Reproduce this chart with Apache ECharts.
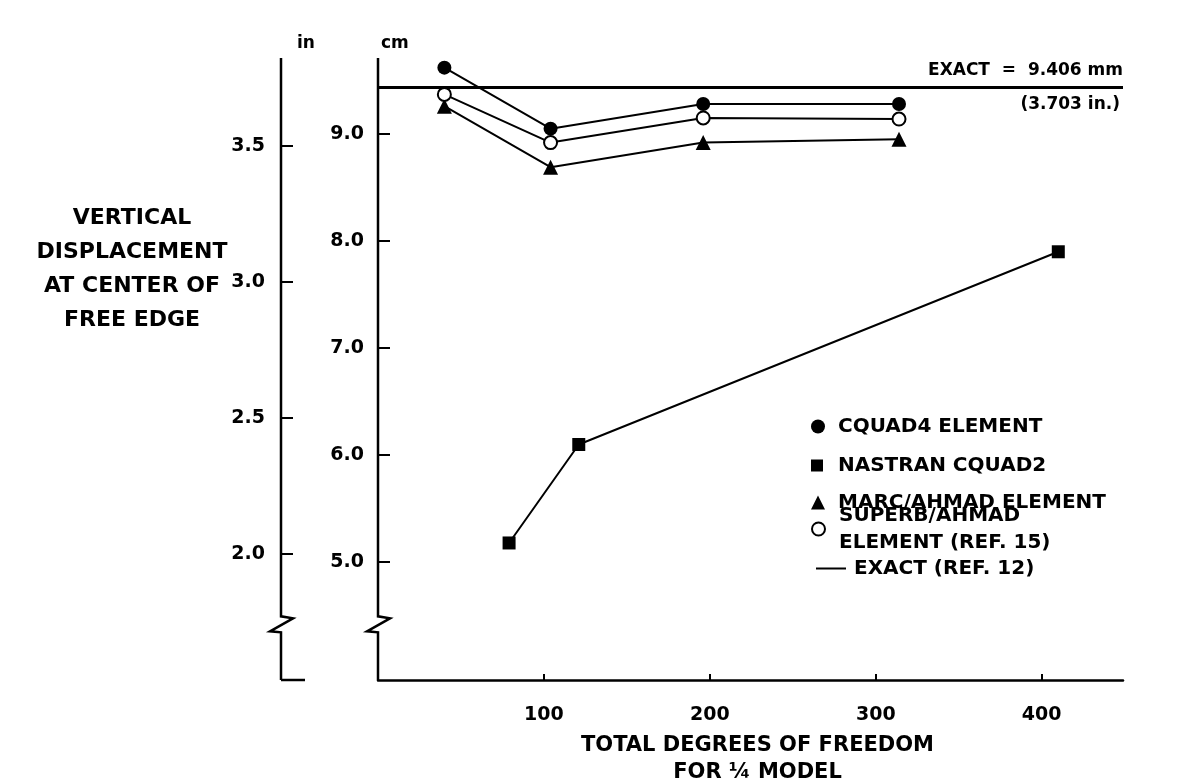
<!DOCTYPE html>
<html>
<head>
<meta charset="utf-8">
<script src="https://cdn.jsdelivr.net/npm/echarts@6/dist/echarts.min.js"></script>
<style>
html, body { margin: 0; background: #fff; }
#chart { width: 1190px; height: 782px; }
</style>
</head>
<body>
<div id="chart"></div>
<script>
// data (x = total DOF, y = displacement in cm)
var cquad4X = [40, 104, 196, 314];
var cquad4Cm = [9.62, 9.05, 9.28, 9.28];
var superbX = [40, 104, 196, 314];
var superbCm = [9.37, 8.92, 9.15, 9.14];
var marcX = [40, 104, 196, 314];
var marcCm = [9.26, 8.69, 8.92, 8.95];
var nastranX = [79, 121, 410];
var nastranCm = [5.18, 6.10, 7.90];
var exactCm = 9.44;

var xTicks = [100, 200, 300, 400];
var cmTicks = [5, 6, 7, 8, 9];
var inTicks = [2.0, 2.5, 3.0, 3.5];

var cmMin = 3.9, cmMax = 9.71, breakCm = 4.42;
var inOffset = 97;

var FONT = '"DejaVu Sans", Arial, sans-serif';

function pairs(xs, ys) {
    var out = [];
    for (var i = 0; i < xs.length; i++) out.push([xs[i], ys[i]]);
    return out;
}

var chart = echarts.init(document.getElementById('chart'), null, { renderer: 'canvas' });

var tickLabel = { show: true, color: '#000', fontFamily: FONT, fontWeight: 'bold', fontSize: 19 };

function legendFor(name, left, top, icon, w, h, pad) {
    return {
        show: true,
        left: left,
        top: top,
        orient: 'vertical',
        selectedMode: false,
        itemWidth: w,
        itemHeight: h,
        data: [{ name: name, icon: icon }],
        textStyle: { color: '#000', fontFamily: FONT, fontWeight: 'bold', fontSize: 20, lineHeight: 27, padding: [0, 0, 0, pad] }
    };
}

var option = {
    animation: false,
    backgroundColor: '#fff',
    grid: { left: 378, right: 67, top: 58, bottom: 102, containLabel: false, outerBoundsMode: 'none' },
    legend: [
        legendFor('CQUAD4 ELEMENT', 806, 408, 'circle', 14, 14, 8),
        legendFor('NASTRAN CQUAD2', 806, 447, 'rect', 12, 12, 10),
        legendFor('MARC/AHMAD ELEMENT', 806, 484, 'triangle', 14, 14, 8),
        legendFor('SUPERB/AHMAD\nELEMENT (REF. 15)', 806, 497, 'circle', 13, 13, 9),
        legendFor('EXACT (REF. 12)', 811, 550, 'rect', 30, 2, 3)
    ],
    xAxis: {
        type: 'value',
        min: 0,
        max: 449,
        axisLine: { show: true, lineStyle: { color: '#000', width: 2.5 } },
        axisTick: { show: true, inside: true, length: 6, lineStyle: { color: '#000', width: 2 }, customValues: xTicks },
        axisLabel: Object.assign({ margin: 26, customValues: xTicks }, tickLabel),
        splitLine: { show: false },
        name: 'TOTAL DEGREES OF FREEDOM\nFOR \u00BC MODEL',
        nameLocation: 'middle',
        nameGap: 52,
        nameTextStyle: { color: '#000', fontFamily: FONT, fontWeight: 'bold', fontSize: 21, lineHeight: 27, padding: [0, 0, 0, 14] }
    },
    yAxis: [
        {
            type: 'value',
            position: 'left',
            min: cmMin,
            max: cmMax,
            axisLine: { show: false },
            axisTick: { show: true, inside: true, length: 12, lineStyle: { color: '#000', width: 2 }, customValues: cmTicks },
            axisLabel: Object.assign({ margin: 14, customValues: cmTicks, formatter: function (v) { return v.toFixed(1); } }, tickLabel),
            splitLine: { show: false }
        },
        {
            type: 'value',
            position: 'left',
            offset: inOffset,
            min: cmMin / 2.54,
            max: cmMax / 2.54,
            axisLine: { show: false },
            axisTick: { show: true, inside: true, length: 12, lineStyle: { color: '#000', width: 2 }, customValues: inTicks },
            axisLabel: Object.assign({ margin: 16, customValues: inTicks, formatter: function (v) { return v.toFixed(1); } }, tickLabel),
            splitLine: { show: false }
        }
    ],
    series: [
        {
            name: 'EXACT (REF. 12)',
            type: 'line',
            data: [],
            itemStyle: { color: '#000' },
            lineStyle: { color: '#000', width: 3 },
            markLine: {
                silent: true,
                symbol: 'none',
                lineStyle: { color: '#000', width: 3, type: 'solid' },
                data: [
                    { yAxis: exactCm, label: { show: true, position: 'insideEndTop', formatter: 'EXACT  =  9.406 mm', distance: [0, 8] } },
                    { yAxis: exactCm, label: { show: true, position: 'insideEndBottom', formatter: '(3.703 in.)', distance: [3, 9] } }
                ],
                label: { color: '#000', fontFamily: FONT, fontWeight: 'bold', fontSize: 17 }
            }
        },
        {
            name: 'CQUAD4 ELEMENT',
            type: 'line',
            data: pairs(cquad4X, cquad4Cm),
            symbol: 'circle',
            symbolSize: 14,
            itemStyle: { color: '#000' },
            lineStyle: { color: '#000', width: 2 },
            z: 4
        },
        {
            name: 'MARC/AHMAD ELEMENT',
            type: 'line',
            data: pairs(marcX, marcCm),
            symbol: 'triangle',
            symbolSize: 15,
            itemStyle: { color: '#000' },
            lineStyle: { color: '#000', width: 2 },
            z: 3
        },
        {
            name: 'SUPERB/AHMAD\nELEMENT (REF. 15)',
            type: 'line',
            data: pairs(superbX, superbCm),
            symbol: 'circle',
            symbolSize: 13,
            itemStyle: { color: '#fff', borderColor: '#000', borderWidth: 2 },
            lineStyle: { color: '#000', width: 2 },
            z: 5
        },
        {
            name: 'NASTRAN CQUAD2',
            type: 'line',
            data: pairs(nastranX, nastranCm),
            symbol: 'rect',
            symbolSize: 13,
            itemStyle: { color: '#000' },
            lineStyle: { color: '#000', width: 2 },
            z: 3
        }
    ]
};

chart.setOption(option);

// vertical axes with the break marks, plus side labels
var xCm = chart.convertToPixel({ xAxisIndex: 0 }, 0);
var xIn = xCm - inOffset;
var yTop = chart.convertToPixel({ yAxisIndex: 0 }, cmMax);
var yBot = chart.convertToPixel({ yAxisIndex: 0 }, cmMin);
var yBrk = chart.convertToPixel({ yAxisIndex: 0 }, breakCm);

function brokenAxis(x) {
    return {
        type: 'polyline',
        shape: { points: [[x, yTop], [x, yBrk - 8], [x + 12, yBrk - 6], [x - 11, yBrk + 7], [x, yBrk + 8], [x, yBot]] },
        style: { stroke: '#000', lineWidth: 2.5, fill: null },
        z: 10
    };
}

chart.setOption({
    graphic: [
        brokenAxis(xCm),
        brokenAxis(xIn),
        { type: 'line', shape: { x1: xIn, y1: yBot, x2: xIn + 24, y2: yBot }, style: { stroke: '#000', lineWidth: 2.5 }, z: 10 },
        { type: 'text', x: xIn + 16, y: yTop - 14, style: { text: 'in', fill: '#000', font: 'bold 17px ' + FONT, align: 'left', verticalAlign: 'middle' } },
        { type: 'text', x: xCm + 3, y: yTop - 14, style: { text: 'cm', fill: '#000', font: 'bold 17px ' + FONT, align: 'left', verticalAlign: 'middle' } },
        {
            type: 'text', x: 132, y: 201,
            style: {
                text: 'VERTICAL\nDISPLACEMENT\nAT CENTER OF\nFREE EDGE',
                fill: '#000', font: 'bold 22px ' + FONT, lineHeight: 34, align: 'center', verticalAlign: 'top'
            }
        }
    ]
});

window.addEventListener('resize', chart.resize);
</script>
</body>
</html>
